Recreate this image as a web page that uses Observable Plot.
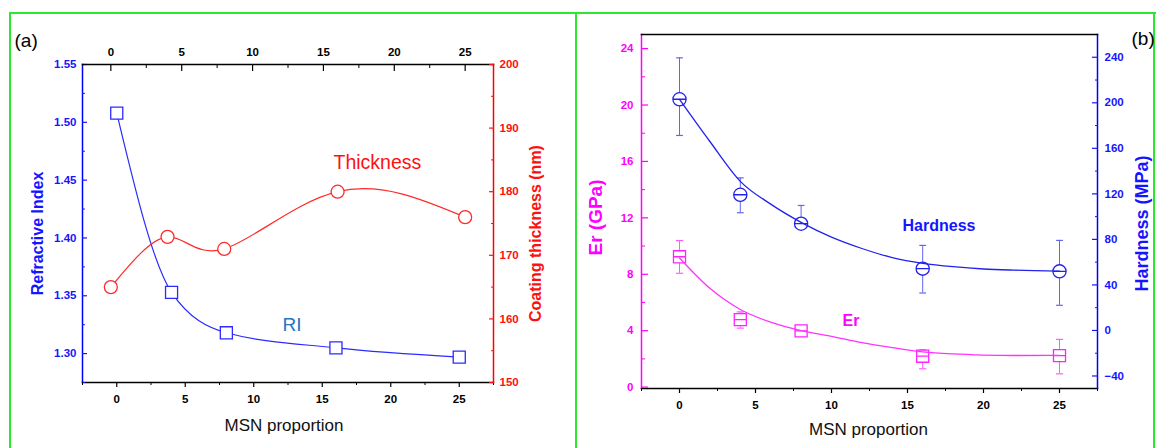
<!DOCTYPE html>
<html><head><meta charset="utf-8">
<script src="https://cdn.jsdelivr.net/npm/d3@7"></script>
<script src="https://cdn.jsdelivr.net/npm/@observablehq/plot@0.6"></script>
<style>
html,body{margin:0;padding:0;background:#fff;overflow:hidden;}
#wrap{position:relative;width:1156px;height:448px;overflow:hidden;}
#wrap svg{position:absolute;left:0;top:0;}
.g{position:absolute;background:#2fe62f;}
</style></head><body>
<div id="wrap">
<div class="g" style="left:9px;top:12px;width:1147px;height:2px"></div>
<div class="g" style="left:9px;top:12px;width:2px;height:436px"></div>
<div class="g" style="left:575px;top:12px;width:2px;height:436px"></div>
<div class="g" style="left:1153px;top:12px;width:2px;height:436px"></div>
</div>
<script>
// ---- data ----
const msn = [0, 4, 8, 16, 25];
const refractiveIndex = [1.508, 1.353, 1.318, 1.305, 1.297];
const thicknessNm = [165.0, 172.9, 171.0, 180.0, 176.0];
const erGPa = [9.24, 4.78, 3.99, 2.19, 2.23];
const erHigh = [10.39, 5.33, 4.20, 2.65, 3.38];
const erLow = [8.07, 4.18, 3.80, 1.30, 0.94];
const hardnessMPa = [203.1, 119.2, 93.8, 54.3, 51.9];
const hardHigh = [239.5, 134.0, 109.8, 74.7, 79.1];
const hardLow = [171.3, 103.4, 93.8, 32.9, 22.1];
const fitX = [0, 2, 4, 6, 8, 10, 12, 14, 16, 18, 20, 22, 25];
const hardnessFit = [203, 166, 131, 111, 95, 82, 72, 64, 59, 56, 54, 53, 52.2];
const erFit = [9.15, 7.0, 5.5, 4.6, 4.0, 3.6, 3.15, 2.8, 2.5, 2.35, 2.27, 2.24, 2.25];

const xTicks = [0, 5, 10, 15, 20, 25];
const xMinor = [-2.5, 2.5, 7.5, 12.5, 17.5, 22.5, 27.5];
const topMinor = [2.5, 7.5, 12.5, 17.5, 22.5];
const riTicks = [1.30, 1.35, 1.40, 1.45, 1.50, 1.55];
const riMinor = [1.275, 1.325, 1.375, 1.425, 1.475, 1.525];
const thTicks = [150, 160, 170, 180, 190, 200];
const thMinor = [155, 165, 175, 185, 195];
const erTicks = [0, 4, 8, 12, 16, 20, 24];
const erMinor = [2, 6, 10, 14, 18, 22];
const hdTicks = [-40, 0, 40, 80, 120, 160, 200, 240];
const hdMinor = [-20, 20, 60, 100, 140, 180, 220];

const riData = msn.map((m, i) => ({msn: m, v: refractiveIndex[i]}));
const thData = msn.map((m, i) => ({msn: m, v: thicknessNm[i]}));
const erData = msn.map((m, i) => ({msn: m, v: erGPa[i], hi: erHigh[i], lo: erLow[i]}));
const hdData = msn.map((m, i) => ({msn: m, v: hardnessMPa[i], hi: hardHigh[i], lo: hardLow[i]}));
const erFitData = fitX.map((m, i) => ({msn: m, v: erFit[i]}));
const hdFitData = fitX.map((m, i) => ({msn: m, v: hardnessFit[i]}));

// ---- symbols ----
const circleBar = {draw(ctx, size) {const r = Math.sqrt(size / Math.PI); ctx.moveTo(r, 0); ctx.arc(0, 0, r, 0, 2 * Math.PI); ctx.moveTo(-r, 0); ctx.lineTo(r, 0);}};
const squareBar = {draw(ctx, size) {const h = Math.sqrt(size) / 2; ctx.rect(-h, -h, 2 * h, 2 * h); ctx.moveTo(-h, 0); ctx.lineTo(h, 0);}};
const capSymbol = {draw(ctx, size) {const w = Math.sqrt(size / Math.PI); ctx.moveTo(-w, 0); ctx.lineTo(w, 0);}};

const FONT = "'Liberation Sans', Arial, Helvetica, sans-serif";
const W = 1156, H = 448;
const style = {background: "transparent", fontFamily: FONT, fontSize: "11.5px", fontWeight: "bold", overflow: "visible"};
const lab = (t, o) => Plot.text([t], {text: d => d, fontFamily: FONT, ...o});

const BLUE = "#1515ff", RED = "#ff1010", MAG = "#ff00ff";
const wrap = document.getElementById("wrap");

// (a) bottom x + Refractive index
const A = {width: W, height: H, marginLeft: 82, marginRight: 663, marginTop: 64, marginBottom: 66, style};
wrap.append(Plot.plot({
  ...A,
  x: {domain: [-2.5, 27.5]}, y: {domain: [1.275, 1.55]},
  marks: [
    Plot.frame({anchor: "left", stroke: "#0000ff", strokeWidth: 1.5}),
    Plot.frame({anchor: "bottom", stroke: "#000", strokeWidth: 1.5}),
    Plot.axisY({anchor: "left", ticks: riTicks, tickSize: -5, tickPadding: 11, tickFormat: d => d.toFixed(2), color: BLUE, label: null, strokeWidth: 1.2}),
    Plot.axisY({anchor: "left", ticks: riMinor, tickSize: -3, tickFormat: () => "", color: BLUE, label: null}),
    Plot.axisX({anchor: "bottom", ticks: xTicks, tickSize: 5, tickPadding: 7, color: "#000", label: null, strokeWidth: 1.2}),
    Plot.axisX({anchor: "bottom", ticks: xMinor, tickSize: 3, tickFormat: () => "", color: "#000", label: null}),
    Plot.line(riData, {x: "msn", y: "v", curve: "monotone-x", stroke: "#2b2bff", strokeWidth: 1.2}),
    Plot.dot(riData, {x: "msn", y: "v", symbol: "square", r: 6.8, stroke: "#2b2bff", fill: "white", strokeWidth: 1.3}),
    lab("Refractive Index", {frameAnchor: "left", dx: -45, dy: 10, rotate: -90, textAnchor: "middle", lineAnchor: "middle", fontSize: 16, fontWeight: "bold", fill: BLUE}),
    lab("MSN proportion", {frameAnchor: "bottom", dx: -4, dy: 48, lineAnchor: "bottom", fontSize: 17, fontWeight: "normal", fill: "#111"}),
    lab("RI", {frameAnchor: "top-left", dx: 200, dy: 266, textAnchor: "start", lineAnchor: "bottom", fontSize: 19, fontWeight: "normal", fill: "#1f77c0"}),
    lab("(a)", {frameAnchor: "top-left", dx: -68, dy: -18, textAnchor: "start", lineAnchor: "bottom", fontSize: 19, fontWeight: "normal", fill: "#000"})
  ]
}));

// (a) top x + thickness
wrap.append(Plot.plot({
  ...A,
  x: {domain: [-2, 27]}, y: {domain: [150, 200]},
  marks: [
    Plot.frame({anchor: "right", stroke: "#ff0000", strokeWidth: 1.5}),
    Plot.frame({anchor: "top", stroke: "#000", strokeWidth: 1.5}),
    Plot.axisY({anchor: "right", ticks: thTicks, tickSize: -5, tickPadding: 11, color: RED, label: null, strokeWidth: 1.2}),
    Plot.axisY({anchor: "right", ticks: thMinor, tickSize: -3, tickFormat: () => "", color: RED, label: null}),
    Plot.axisX({anchor: "top", ticks: xTicks, tickSize: -6, tickPadding: 15, color: "#000", label: null, strokeWidth: 1.2}),
    Plot.axisX({anchor: "top", ticks: topMinor, tickSize: -3, tickFormat: () => "", color: "#000", label: null}),
    Plot.line(thData, {x: "msn", y: "v", curve: "natural", stroke: "#ff2a2a", strokeWidth: 1.2}),
    Plot.dot(thData, {x: "msn", y: "v", r: 6.5, stroke: "#ff2a2a", fill: "white", strokeWidth: 1.3}),
    lab("Coating thickness (nm)", {frameAnchor: "right", dx: 42, dy: 10, rotate: -90, textAnchor: "middle", lineAnchor: "middle", fontSize: 16, fontWeight: "bold", fill: RED}),
    lab("Thickness", {frameAnchor: "top-left", dx: 251, dy: 104, textAnchor: "start", lineAnchor: "bottom", fontSize: 19.5, fontWeight: "normal", fill: RED})
  ]
}));

// (b) Er
const B = {width: W, height: H, marginLeft: 641, marginRight: 59, marginTop: 34, marginBottom: 60, style};
wrap.append(Plot.plot({
  ...B,
  x: {domain: [-2.5, 27.5]}, y: {domain: [-0.1, 25]},
  marks: [
    Plot.frame({anchor: "left", stroke: MAG, strokeWidth: 1.5}),
    Plot.frame({anchor: "bottom", stroke: "#000", strokeWidth: 1.5}),
    Plot.axisY({anchor: "left", ticks: erTicks, tickSize: -7, tickPadding: 15, color: MAG, label: null, strokeWidth: 1.2}),
    Plot.axisY({anchor: "left", ticks: erMinor, tickSize: -4, tickFormat: () => "", color: MAG, label: null}),
    Plot.axisX({anchor: "bottom", ticks: xTicks, tickSize: 5, tickPadding: 7, color: "#000", label: null, strokeWidth: 1.2}),
    Plot.axisX({anchor: "bottom", ticks: xMinor, tickSize: 3, tickFormat: () => "", color: "#000", label: null}),
    Plot.ruleX(erData, {x: "msn", y1: "lo", y2: "hi", stroke: "#ff5cff", strokeWidth: 1}),
    Plot.dot(erData, {x: "msn", y: "hi", symbol: capSymbol, r: 3.6, stroke: "#ff5cff", strokeWidth: 1.2}),
    Plot.dot(erData, {x: "msn", y: "lo", symbol: capSymbol, r: 3.6, stroke: "#ff5cff", strokeWidth: 1.2}),
    Plot.dot(erData, {x: "msn", y: "v", symbol: squareBar, r: 6.8, stroke: "#ff22ff", fill: "white", strokeWidth: 1.3}),
    Plot.line(erFitData, {x: "msn", y: "v", curve: "monotone-x", stroke: "#ff33ff", strokeWidth: 1.3}),
    lab("Er (GPa)", {frameAnchor: "left", dx: -46, dy: 6, rotate: -90, textAnchor: "middle", lineAnchor: "middle", fontSize: 19, fontWeight: "bold", fill: MAG}),
    lab("MSN proportion", {frameAnchor: "bottom", dx: -1, dy: 46, lineAnchor: "bottom", fontSize: 17, fontWeight: "normal", fill: "#111"}),
    lab("Er", {frameAnchor: "top-left", dx: 201, dy: 291, textAnchor: "start", lineAnchor: "bottom", fontSize: 16, fontWeight: "bold", fill: MAG})
  ]
}));

// (b) Hardness
wrap.append(Plot.plot({
  ...B,
  x: {domain: [-2.5, 27.5], axis: null}, y: {domain: [-51, 260]},
  marks: [
    Plot.frame({anchor: "right", stroke: "#0000ff", strokeWidth: 1.5}),
    Plot.frame({anchor: "top", stroke: "#000", strokeWidth: 1.5}),
    Plot.axisY({anchor: "right", ticks: hdTicks, tickSize: -6, tickPadding: 13, color: BLUE, label: null, strokeWidth: 1.2}),
    Plot.axisY({anchor: "right", ticks: hdMinor, tickSize: -3, tickFormat: () => "", color: BLUE, label: null}),
    Plot.ruleX(hdData, {x: "msn", y1: "lo", y2: "hi", stroke: "#6464f4", strokeWidth: 1}),
    Plot.dot(hdData, {x: "msn", y: "hi", symbol: capSymbol, r: 3.4, stroke: "#6464f4", strokeWidth: 1.2}),
    Plot.dot(hdData, {x: "msn", y: "lo", symbol: capSymbol, r: 3.4, stroke: "#6464f4", strokeWidth: 1.2}),
    Plot.dot(hdData, {x: "msn", y: "v", symbol: circleBar, r: 6.6, stroke: "#2222ee", fill: "white", strokeWidth: 1.3}),
    Plot.line(hdFitData, {x: "msn", y: "v", curve: "monotone-x", stroke: "#2222ee", strokeWidth: 1.3}),
    lab("Hardness (MPa)", {frameAnchor: "right", dx: 45, dy: 12, rotate: -90, textAnchor: "middle", lineAnchor: "middle", fontSize: 18, fontWeight: "bold", fill: BLUE}),
    lab("Hardness", {frameAnchor: "top-left", dx: 261, dy: 196, textAnchor: "start", lineAnchor: "bottom", fontSize: 16, fontWeight: "bold", fill: BLUE}),
    lab("(b)", {frameAnchor: "top-right", dx: 34, dy: 10, textAnchor: "start", lineAnchor: "bottom", fontSize: 19, fontWeight: "normal", fill: "#000"})
  ]
}));
</script>
</body></html>
